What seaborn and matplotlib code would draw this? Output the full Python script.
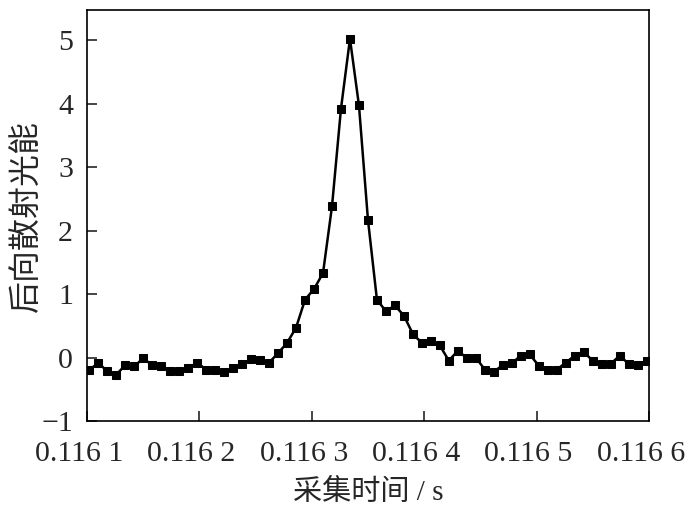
# 后向散射光能随采集时间变化曲线
import seaborn as sns
import matplotlib.pyplot as plt
import matplotlib.transforms as mtransforms
import pandas as pd

# 采集时间 (s)
tempo = [
    0.116102, 0.116110, 0.116118, 0.116126, 0.116134, 0.116142, 0.116150,
    0.116158, 0.116166, 0.116174, 0.116182, 0.116190, 0.116198, 0.116206,
    0.116214, 0.116222, 0.116230, 0.116238, 0.116246, 0.116254, 0.116262,
    0.116270, 0.116278, 0.116286, 0.116294, 0.116302, 0.116310, 0.116318,
    0.116326, 0.116334, 0.116342, 0.116350, 0.116358, 0.116366, 0.116374,
    0.116382, 0.116390, 0.116398, 0.116406, 0.116414, 0.116422, 0.116430,
    0.116438, 0.116446, 0.116454, 0.116462, 0.116470, 0.116478, 0.116486,
    0.116494, 0.116502, 0.116510, 0.116518, 0.116526, 0.116534, 0.116542,
    0.116550, 0.116558, 0.116566, 0.116574, 0.116582, 0.116590, 0.116598,
]

# 后向散射光能
energia = [
    -0.19, -0.09, -0.21, -0.27, -0.12, -0.14, -0.01,
    -0.12, -0.14, -0.21, -0.21, -0.17, -0.08, -0.19,
    -0.19, -0.23, -0.17, -0.10, -0.03, -0.04, -0.08,
    0.07, 0.23, 0.47, 0.91, 1.08, 1.33, 2.38,
    3.92, 5.02, 3.97, 2.17, 0.91, 0.73, 0.82,
    0.66, 0.37, 0.23, 0.26, 0.19, -0.05, 0.11,
    -0.01, 0.00, -0.19, -0.22, -0.12, -0.09, 0.03,
    0.05, -0.13, -0.19, -0.19, -0.08, 0.03, 0.09,
    -0.05, -0.10, -0.10, 0.03, -0.10, -0.11, -0.05,
]

xticks = [0.1161, 0.1162, 0.1163, 0.1164, 0.1165, 0.1166]
xtick_labels = ["0.116 1", "0.116 2", "0.116 3", "0.116 4", "0.116 5", "0.116 6"]
yticks = [-1, 0, 1, 2, 3, 4, 5]
ytick_labels = ["\u22121", "0", "1", "2", "3", "4", "5"]

df = pd.DataFrame({"tempo": tempo, "energia": energia})

sns.set_style("ticks")
plt.rcParams["font.family"] = ["Liberation Serif", "Noto Sans CJK SC"]
plt.rcParams["xtick.direction"] = "in"
plt.rcParams["ytick.direction"] = "in"

fig = plt.figure(figsize=(7, 5.11), dpi=100)
ax = fig.add_axes([0.1243, 0.176, 0.8027, 0.804])

sns.lineplot(x="tempo", y="energia", data=df, ax=ax, color="black",
             marker="s", markersize=5.2, markeredgecolor="black",
             linewidth=1.8)

ax.set_xlim(0.1161, 0.1166)
ax.set_ylim(-1, 5.47)
ax.set_xticks(xticks)
ax.set_xticklabels(xtick_labels)
ax.set_yticks(yticks)
ax.set_yticklabels(ytick_labels)
ax.tick_params(labelsize=21.5, length=7, width=1.2)
ax.tick_params(axis="x", pad=14)
ax.tick_params(axis="y", pad=10)
for s in ax.spines.values():
    s.set_linewidth(1.2)
    s.set_color("black")

# rótulos do eixo x um pouco deslocados para a esquerda, como no original
desloca = mtransforms.ScaledTranslation(-8 / 100, 0, fig.dpi_scale_trans)
for lbl in ax.get_xticklabels():
    lbl.set_transform(lbl.get_transform() + desloca)

ax.set_xlabel("采集时间 / s", fontsize=21,
              family=["Liberation Serif", "Noto Sans CJK SC"])
ax.xaxis.set_label_coords(0.5, -0.142)
ax.set_ylabel("后向散射光能", fontsize=23,
              family=["Noto Sans CJK SC", "Liberation Serif"])
ax.yaxis.set_label_coords(-0.08, 0.5)

plt.savefig("out.png", dpi=100)
